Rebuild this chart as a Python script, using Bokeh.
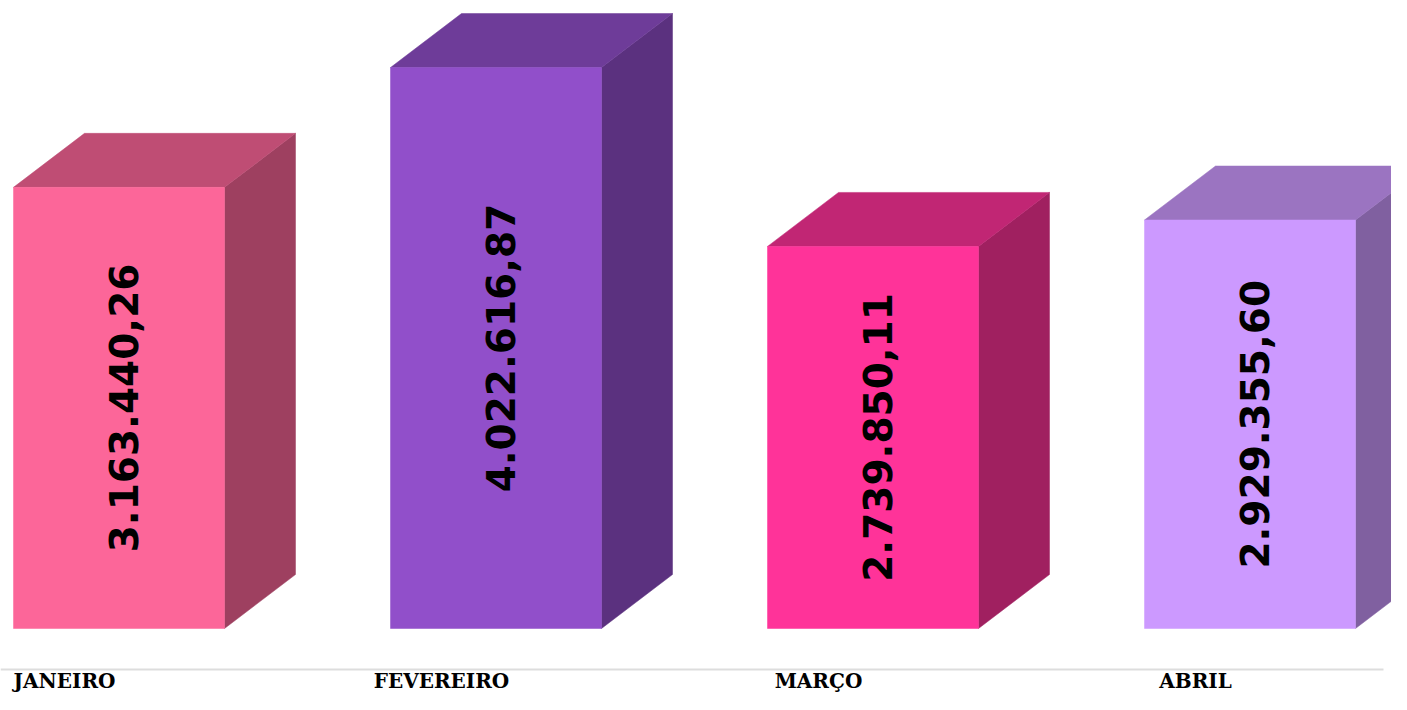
from bokeh.plotting import figure
from bokeh.models import Range1d, ColumnDataSource
from bokeh.core.properties import value
from bokeh.embed import file_html
from bokeh.resources import INLINE
import math

# ---- data ----
months = ["JANEIRO", "FEVEREIRO", "MARÇO", "ABRIL"]
values = [3163440.26, 4022616.87, 2739850.11, 2929355.60]
front_colors = ["#FC6699", "#914FCA", "#FF3399", "#CC99FF"]

# ---- layout / style constants (pixels) ----
W, H = 1391, 694
PX_PER_M = 139.45          # pixels per million
BASE = 628                 # canvas y of baseline
X0, STEP, BAR_W = 13, 377, 211
DX, DY = 71, 54            # depth offset of the 3D box
TOP_F, RIGHT_F = 0.76, 0.63

def shade(hexc, f):
    h = hexc.lstrip("#")
    r, g, b = (int(h[i:i + 2], 16) for i in (0, 2, 4))
    return "#%02x%02x%02x" % (int(r * f), int(g * f), int(b * f))

def fmt_br(v):
    s = f"{v:,.2f}"
    return s.replace(",", "X").replace(".", ",").replace("X", ".")

def py(screen_y):
    return (BASE - screen_y) / PX_PER_M

dy = DY / PX_PER_M
ym = [v / 1e6 for v in values]
lefts = [X0 + STEP * i for i in range(len(values))]
rights = [l + BAR_W for l in lefts]

p = figure(width=W, height=H, output_backend="svg", toolbar_location=None,
           x_range=Range1d(0, W), y_range=Range1d(py(H), py(0)),
           min_border=0, background_fill_color="white", border_fill_color="white")
p.outline_line_color = None
p.xaxis.visible = False
p.yaxis.visible = False
p.xgrid.visible = False
p.ygrid.visible = False

rx, ry, rc = [], [], []
tx, ty, tc = [], [], []
for l, r, h, c in zip(lefts, rights, ym, front_colors):
    rx.append([r, r + DX, r + DX, r])
    ry.append([0, dy, h + dy, h])
    rc.append(shade(c, RIGHT_F))
    tx.append([l, r, r + DX, l + DX])
    ty.append([h, h, h + dy, h + dy])
    tc.append(shade(c, TOP_F))

p.patches(xs=rx, ys=ry, fill_color=rc, line_color=rc, line_width=0.5)
p.patches(xs=tx, ys=ty, fill_color=tc, line_color=tc, line_width=0.5)
p.quad(left=lefts, right=rights, bottom=0, top=ym, fill_color=front_colors,
       line_color=front_colors, line_width=0.5)

# value labels (rotated)
src = ColumnDataSource(dict(x=[l + BAR_W / 2 + 4 for l in lefts],
                            y=[h / 2 for h in ym],
                            t=[fmt_br(v) for v in values]))
p.text(x="x", y="y", text="t", source=src, angle=math.pi / 2,
       text_align="center", text_baseline="middle",
       text_font=value("DejaVu Sans"), text_font_style="bold",
       text_font_size="39px", text_color="black")

# baseline rule
p.segment(x0=[0], y0=[py(669)], x1=[1383], y1=[py(669)],
          line_color="#dddddd", line_width=2)

# category labels
p.text(x=[l + 51 for l in lefts], y=[py(680)] * len(months), text=months,
       text_align="center", text_baseline="middle",
       text_font=value("DejaVu Serif"), text_font_style="bold",
       text_font_size="20px", text_color="black")

open("out.html", "w").write(file_html(p, INLINE))
